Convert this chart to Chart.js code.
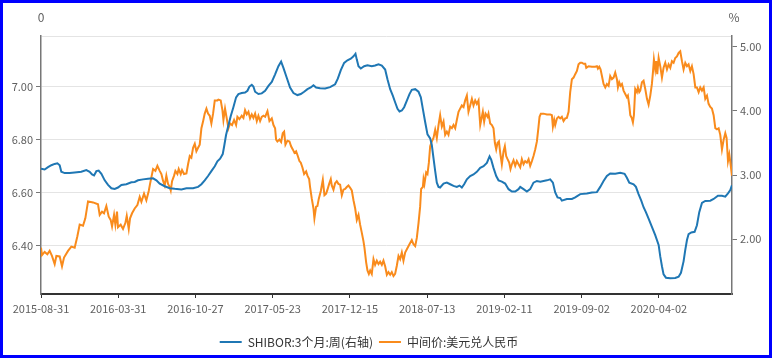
<!DOCTYPE html>
<html>
<head>
<meta charset="utf-8">
<script src="https://cdn.jsdelivr.net/npm/chart.js@4/dist/chart.umd.min.js"></script>
<style>
html,body{margin:0;padding:0;background:#fff;}
#wrap{width:772px;height:358px;box-sizing:border-box;border:3px solid #0000ff;background:#fff;}
canvas{display:block;}
</style>
</head>
<body>
<div id="wrap"><canvas id="c" width="766" height="352"></canvas></div>
<script>
// x positions are in units of the tick-label spacing (0 = 2015-08-31, 8 = 2020-04-02)
const tickLabels = ['2015-08-31','2016-03-31','2016-10-27','2017-05-23','2017-12-15','2018-07-13','2019-02-11','2019-09-02','2020-04-02'];
const seriesNames = ['SHIBOR:3个月:周(右轴)', '中间价:美元兑人民币'];
const axisNames = ['0', '%'];
const leftTicks = [6.40, 6.60, 6.80, 7.00];
const rightTicks = [2.00, 3.00, 4.00, 5.00];

// SHIBOR 3M weekly (%), right axis: [x, value]
const shibor = [
[0,3.098],[0.047,3.088],[0.091,3.124],[0.134,3.154],[0.177,3.175],[0.212,3.185],[0.242,3.154],[0.263,3.052],[0.307,3.032],[0.371,3.032],
[0.436,3.042],[0.522,3.052],[0.587,3.078],[0.630,3.052],[0.661,3.011],[0.687,2.996],[0.717,3.062],[0.747,3.072],[0.782,3.021],[0.825,2.919],
[0.868,2.848],[0.911,2.796],[0.954,2.786],[0.997,2.807],[1.041,2.848],[1.105,2.858],[1.170,2.889],[1.213,2.894],[1.256,2.919],[1.321,2.934],
[1.386,2.945],[1.451,2.950],[1.494,2.919],[1.537,2.868],[1.602,2.827],[1.667,2.796],[1.731,2.786],[1.818,2.776],[1.883,2.796],[1.969,2.796],
[2.034,2.817],[2.077,2.858],[2.120,2.919],[2.163,2.986],[2.206,3.062],[2.250,3.139],[2.284,3.216],
[2.319,3.257],[2.353,3.328],[2.371,3.446],[2.396,3.625],[2.427,3.778],[2.457,3.921],[2.491,4.059],[2.526,4.213],[2.556,4.264],[2.599,4.279],
[2.642,4.289],[2.673,4.315],[2.699,4.381],[2.729,4.407],[2.750,4.381],[2.772,4.300],[2.815,4.264],[2.858,4.274],[2.902,4.315],[2.945,4.392],
[2.988,4.453],[3.031,4.571],[3.074,4.698],[3.109,4.770],[3.139,4.673],[3.182,4.519],[3.225,4.366],[3.269,4.279],[3.320,4.248],[3.364,4.264],
[3.407,4.300],[3.450,4.340],[3.493,4.366],[3.528,4.402],[3.562,4.366],[3.614,4.356],[3.679,4.351],[3.743,4.371],[3.808,4.417],[3.843,4.504],
[3.882,4.637],[3.925,4.749],[3.968,4.790],[4.011,4.816],[4.046,4.852],[4.072,4.893],[4.089,4.801],[4.111,4.698],[4.141,4.663],[4.184,4.698],
[4.227,4.714],[4.283,4.698],[4.326,4.709],[4.370,4.729],[4.413,4.709],[4.456,4.647],[4.486,4.494],[4.521,4.340],
[4.555,4.238],[4.585,4.136],[4.616,4.034],[4.642,3.993],[4.672,4.008],[4.702,4.059],[4.737,4.161],[4.771,4.264],[4.801,4.330],[4.845,4.340],
[4.888,4.300],[4.918,4.213],[4.944,4.034],[4.974,3.829],[5.004,3.635],[5.039,3.574],[5.060,3.471],[5.082,3.267],[5.104,3.062],[5.125,2.883],
[5.147,2.817],[5.168,2.807],[5.212,2.868],[5.255,2.883],[5.298,2.858],[5.341,2.832],[5.384,2.817],[5.419,2.837],[5.449,2.807],[5.479,2.858],
[5.514,2.935],[5.557,2.986],[5.600,3.011],[5.643,3.052],[5.687,3.113],[5.730,3.139],[5.773,3.190],[5.808,3.292],[5.829,3.241],[5.859,3.113],
[5.894,2.986],[5.924,2.919],[5.967,2.899],[6.010,2.868],[6.054,2.781],[6.097,2.745],[6.140,2.745],[6.183,2.781],[6.205,2.817],[6.248,2.781],
[6.291,2.745],[6.334,2.781],[6.377,2.883],[6.421,2.909],[6.464,2.899],[6.507,2.909],[6.550,2.919],[6.593,2.935],[6.628,2.883],[6.658,2.730],
[6.688,2.653],[6.723,2.643],
[6.744,2.602],[6.809,2.628],[6.874,2.628],[6.917,2.653],[6.982,2.704],[7.068,2.715],[7.133,2.730],[7.198,2.735],[7.241,2.817],[7.284,2.909],
[7.327,2.986],[7.370,3.027],[7.435,3.021],[7.500,3.037],[7.556,3.021],[7.586,2.960],[7.617,2.883],[7.673,2.858],[7.703,2.817],[7.737,2.704],
[7.772,2.602],[7.802,2.500],[7.832,2.423],[7.867,2.321],[7.910,2.193],[7.953,2.065],[7.997,1.912],[8.018,1.733],[8.040,1.580],[8.061,1.452],
[8.092,1.401],[8.148,1.391],[8.212,1.396],[8.256,1.416],[8.286,1.477],[8.320,1.656],[8.342,1.835],[8.364,1.989],[8.385,2.081],[8.420,2.106],
[8.463,2.116],[8.493,2.219],[8.523,2.423],[8.558,2.566],[8.601,2.597],[8.666,2.602],[8.709,2.628],[8.765,2.679],[8.817,2.679],[8.860,2.664],
[8.895,2.715],[8.925,2.766],[8.946,2.843]
];

// USD/CNY central parity, left axis: [x, value]
const usdcny = [
[0,6.391],[0.013,6.363],[0.047,6.375],[0.082,6.366],[0.112,6.379],[0.142,6.360],[0.177,6.329],[0.199,6.360],[0.242,6.358],[0.272,6.321],
[0.298,6.354],[0.350,6.379],[0.393,6.395],[0.436,6.391],[0.471,6.434],[0.501,6.478],[0.544,6.474],[0.574,6.502],[0.609,6.566],[0.674,6.562],
[0.738,6.555],[0.760,6.515],[0.790,6.527],[0.816,6.521],[0.846,6.548],[0.877,6.508],[0.902,6.496],[0.920,6.471],[0.946,6.515],[0.963,6.478],
[0.984,6.527],[0.997,6.468],[1.032,6.478],[1.062,6.462],[1.092,6.484],[1.110,6.511],[1.136,6.462],[1.153,6.502],[1.179,6.521],[1.213,6.539],
[1.248,6.552],[1.278,6.583],[1.300,6.564],[1.334,6.595],[1.364,6.570],[1.395,6.605],[1.412,6.632],[1.451,6.688],[1.481,6.681],[1.507,6.700],
[1.537,6.681],[1.559,6.669],[1.580,6.644],[1.602,6.626],[1.623,6.663],[1.645,6.632],[1.667,6.620],[1.680,6.607],[1.697,6.642],[1.723,6.663],
[1.740,6.681],[1.766,6.669],[1.783,6.688],[1.809,6.669],[1.826,6.684],[1.852,6.669],[1.883,6.671],[1.904,6.706],[1.926,6.737],[1.947,6.731],
[1.969,6.768],[1.991,6.783],[2.012,6.755],[2.034,6.768],[2.055,6.780],[2.077,6.842],[2.098,6.867],[2.120,6.897],[2.142,6.916],[2.163,6.897],
[2.185,6.889],[2.206,6.860],[2.228,6.897],[2.250,6.947],[2.284,6.947],
[2.297,6.950],[2.327,6.947],[2.349,6.910],[2.362,6.873],[2.383,6.916],[2.405,6.879],[2.427,6.842],[2.448,6.860],[2.474,6.854],[2.500,6.873],
[2.526,6.854],[2.543,6.885],[2.569,6.876],[2.599,6.889],[2.621,6.881],[2.642,6.910],[2.664,6.894],[2.686,6.904],[2.707,6.879],[2.729,6.894],
[2.750,6.881],[2.772,6.897],[2.794,6.869],[2.815,6.889],[2.837,6.869],[2.858,6.885],[2.880,6.889],[2.902,6.885],[2.932,6.906],[2.958,6.869],
[2.988,6.879],[3.010,6.854],[3.031,6.842],[3.044,6.799],[3.061,6.792],[3.087,6.799],[3.109,6.790],[3.130,6.823],[3.148,6.829],[3.165,6.780],
[3.191,6.795],[3.217,6.792],[3.238,6.774],[3.260,6.762],[3.282,6.749],[3.303,6.755],[3.325,6.737],[3.346,6.718],[3.364,6.712],[3.385,6.694],
[3.407,6.669],[3.433,6.679],[3.450,6.663],[3.472,6.650],[3.484,6.620],[3.506,6.576],[3.528,6.539],[3.540,6.502],[3.562,6.546],[3.579,6.548],
[3.597,6.576],[3.623,6.605],[3.649,6.647],[3.670,6.589],[3.692,6.595],[3.709,6.610],[3.731,6.632],[3.752,6.650],[3.765,6.626],[3.787,6.610],
[3.808,6.634],[3.830,6.642],[3.851,6.632],[3.873,6.629],[3.895,6.589],[3.916,6.610],[3.938,6.613],[3.959,6.620],[3.981,6.626],[4.003,6.617],
[4.024,6.607],[4.046,6.570],[4.068,6.539],[4.089,6.496],[4.111,6.515],[4.132,6.478],[4.154,6.447],[4.175,6.416],[4.188,6.391],[4.210,6.336],
[4.227,6.305],[4.245,6.292],[4.262,6.305],[4.283,6.292],[4.305,6.348],[4.326,6.326],[4.348,6.342],[4.370,6.329],[4.391,6.338],[4.413,6.326],
[4.434,6.342],[4.456,6.321],[4.478,6.289],[4.499,6.299],[4.521,6.289],
[4.542,6.299],[4.564,6.284],[4.585,6.292],[4.607,6.323],[4.629,6.360],[4.650,6.348],[4.672,6.373],[4.693,6.342],[4.715,6.373],[4.737,6.385],
[4.771,6.404],[4.801,6.420],[4.823,6.404],[4.845,6.397],[4.866,6.428],[4.888,6.484],[4.909,6.546],[4.922,6.613],[4.944,6.620],[4.953,6.650],
[4.965,6.632],[4.987,6.675],[5.004,6.669],[5.022,6.712],[5.039,6.774],[5.060,6.792],[5.082,6.805],[5.104,6.836],[5.125,6.805],[5.147,6.854],
[5.168,6.891],[5.190,6.848],[5.212,6.867],[5.233,6.817],[5.255,6.829],[5.276,6.817],[5.298,6.848],[5.320,6.842],[5.341,6.854],[5.363,6.842],
[5.384,6.873],[5.406,6.904],[5.427,6.916],[5.449,6.928],[5.471,6.922],[5.492,6.947],[5.514,6.965],[5.535,6.904],[5.557,6.928],[5.579,6.953],
[5.600,6.928],[5.622,6.947],[5.643,6.934],[5.665,6.947],[5.678,6.891],[5.687,6.854],[5.708,6.885],[5.721,6.904],[5.738,6.867],[5.756,6.897],
[5.782,6.885],[5.794,6.897],[5.816,6.860],[5.838,6.854],[5.859,6.842],[5.877,6.786],[5.894,6.762],[5.911,6.786],[5.929,6.792],[5.946,6.749],
[5.967,6.706],[5.989,6.755],[6.006,6.774],[6.023,6.737],[6.041,6.725],[6.062,6.712],[6.079,6.688],[6.097,6.706],[6.118,6.721],[6.140,6.700],
[6.161,6.718],[6.183,6.706],[6.205,6.694],[6.226,6.725],[6.248,6.706],[6.269,6.718],[6.291,6.712],[6.313,6.725],[6.334,6.700],[6.356,6.718],
[6.377,6.737],[6.399,6.762],[6.421,6.792],[6.442,6.848],[6.455,6.885],[6.472,6.897],[6.507,6.897],[6.550,6.894],[6.593,6.894],[6.615,6.891],
[6.628,6.848],[6.645,6.873],[6.658,6.854],[6.680,6.879],[6.701,6.885],[6.723,6.879],
[6.744,6.885],[6.766,6.869],[6.788,6.879],[6.809,6.881],[6.831,6.904],[6.852,6.978],[6.874,7.027],[6.896,7.033],[6.917,7.046],[6.939,7.058],
[6.960,7.083],[6.982,7.089],[7.003,7.089],[7.025,7.085],[7.047,7.085],[7.060,7.070],[7.090,7.076],[7.133,7.074],[7.176,7.074],[7.198,7.076],
[7.211,7.067],[7.228,7.074],[7.245,7.064],[7.263,7.039],[7.284,7.009],[7.306,6.996],[7.327,7.009],[7.349,7.002],[7.370,7.039],[7.392,7.027],
[7.414,7.033],[7.435,7.052],[7.457,7.027],[7.470,6.996],[7.487,7.015],[7.504,7.002],[7.522,7.009],[7.543,6.984],[7.565,6.971],[7.586,6.959],
[7.599,6.965],[7.617,6.928],[7.630,6.891],[7.651,6.879],[7.664,6.864],[7.677,6.891],[7.694,6.990],[7.716,6.978],[7.729,6.996],[7.746,6.978],
[7.759,6.984],[7.781,7.015],[7.802,7.021],[7.824,6.990],[7.846,6.953],[7.867,6.931],[7.889,6.965],[7.910,7.009],[7.923,7.052],[7.936,7.101],
[7.953,7.064],[7.966,7.095],[7.979,7.046],[7.997,7.107],[8.018,7.076],[8.040,7.033],[8.061,7.070],[8.083,7.089],[8.105,7.064],[8.126,7.083],
[8.148,7.070],[8.169,7.095],[8.191,7.089],[8.212,7.107],[8.234,7.113],[8.256,7.126],[8.277,7.132],[8.299,7.095],[8.320,7.064],[8.342,7.089],
[8.364,7.076],[8.385,7.083],[8.407,7.058],[8.428,7.076],[8.450,7.046],[8.472,6.996],[8.493,6.996],[8.515,6.978],[8.536,6.996],[8.558,6.984],
[8.580,6.996],[8.601,6.953],[8.623,6.965],[8.644,6.934],[8.666,6.922],[8.687,6.916],[8.709,6.891],[8.731,6.842],[8.752,6.838],[8.774,6.842],
[8.795,6.817],[8.817,6.762],[8.839,6.799],[8.860,6.823],[8.877,6.805],[8.895,6.718],[8.912,6.743],[8.929,6.706],[8.946,6.663]
];

const BLUE = '#1f77b4';
const ORANGE = '#f98b1c';
const TXT = '#606060';
const FONT = '"Noto Sans CJK SC", "Noto Sans", sans-serif';

const axisNamePlugin = {
  id: 'axisNames',
  afterLayout(chart) {
    const lg = chart.legend;
    if (lg) { lg.left -= 17; lg.right -= 17; lg.top += 3; lg.bottom += 3; }
  },
  afterDraw(chart) {
    const ctx = chart.ctx;
    ctx.save();
    ctx.font = '12px ' + FONT;
    ctx.fillStyle = TXT;
    ctx.textAlign = 'center';
    ctx.textBaseline = 'middle';
    ctx.fillText(axisNames[0], chart.scales.y.right, 14);
    ctx.fillText(axisNames[1], chart.scales.y1.left + 2, 14);
    ctx.restore();
  }
};

const LEFT_MAX = 7.19;
new Chart(document.getElementById('c'), {
  type: 'line',
  data: {
    datasets: [
      { label: seriesNames[0], data: shibor.map(p => ({x: p[0], y: p[1]})), yAxisID: 'y1',
        borderColor: BLUE, backgroundColor: BLUE, borderWidth: 2, pointRadius: 0, tension: 0 },
      { label: seriesNames[1], data: usdcny.map(p => ({x: p[0], y: p[1]})), yAxisID: 'y',
        borderColor: ORANGE, backgroundColor: ORANGE, borderWidth: 2, pointRadius: 0, tension: 0 }
    ]
  },
  options: {
    responsive: false,
    devicePixelRatio: 1,
    animation: false,
    events: [],
    layout: { padding: { top: 33, left: 0, right: 0, bottom: 0 } },
    plugins: {
      legend: {
        position: 'bottom',
        labels: {
          usePointStyle: true, pointStyle: 'line', pointStyleWidth: 22, boxHeight: 12,
          padding: 6, color: '#333', font: { size: 12, family: FONT }
        }
      },
      tooltip: { enabled: false }
    },
    scales: {
      x: {
        type: 'linear', min: 0, max: 8.947,
        afterFit(s) { s.height = 33; },
        afterBuildTicks(s) { s.ticks = tickLabels.map((_, i) => ({ value: i })); },
        ticks: { autoSkip: false, maxRotation: 0, padding: 4, color: TXT, font: { size: 11, family: FONT },
          callback: v => tickLabels[Math.round(v)] },
        grid: { drawOnChartArea: false, drawTicks: true, tickLength: 4, tickColor: '#333' },
        border: { color: '#333', width: 2 }
      },
      y: {
        position: 'left', min: 6.2163, max: LEFT_MAX,
        afterFit(s) { s.width = 38; },
        afterBuildTicks(s) { s.ticks = leftTicks.concat([LEFT_MAX]).map(v => ({ value: v })); },
        ticks: { padding: 3, color: TXT, font: { size: 11, family: FONT },
          callback: v => (v === LEFT_MAX ? '' : v.toFixed(2)) },
        grid: { color: '#e4e4e4', lineWidth: 1, tickLength: 5,
          tickColor: c => (c.tick && c.tick.value === LEFT_MAX ? 'rgba(0,0,0,0)' : '#777') },
        border: { color: '#777', width: 1.5 }
      },
      y1: {
        position: 'right', min: 1.147, max: 5.169,
        afterFit(s) { s.width = 37; },
        afterBuildTicks(s) { s.ticks = rightTicks.map(v => ({ value: v })); },
        ticks: { padding: 3, color: TXT, font: { size: 11, family: FONT },
          callback: v => v.toFixed(2) },
        grid: { drawOnChartArea: false, tickLength: 5, tickColor: '#777' },
        border: { color: '#777', width: 1.5 }
      }
    }
  },
  plugins: [axisNamePlugin]
});
</script>
</body>
</html>
